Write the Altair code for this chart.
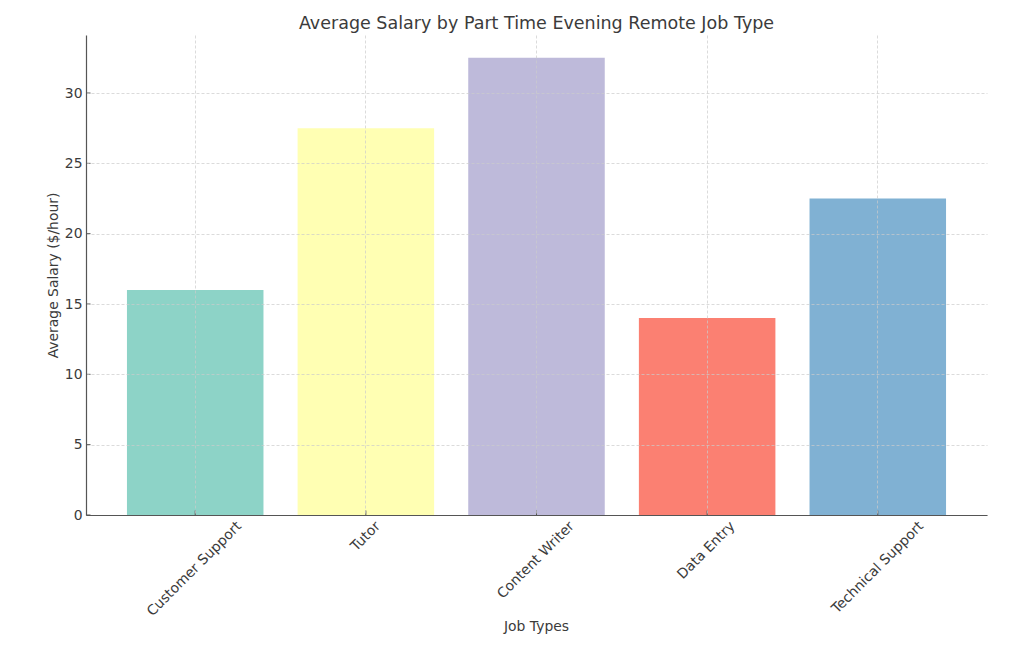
import altair as alt
import pandas as pd

# ---- data ----
jobs = ["Customer Support", "Tutor", "Content Writer", "Data Entry", "Technical Support"]
salaries = [16, 27.5, 32.5, 14, 22.5]
colors = ["#8dd3c7", "#ffffb3", "#bebada", "#fb8072", "#80b1d3"]
y_ticks = [0, 5, 10, 15, 20, 25, 30]

title_text = "Average Salary by Part Time Evening Remote Job Type"
x_title = "Job Types"
y_title = "Average Salary ($/hour)"

FONT = "DejaVu Sans"
TXT = "#3b3b3b"
AXC = "#555555"
FS = 13.9

# approximate DejaVu Sans advance widths (em) used to place rotated labels
_W = {" ": .318, "C": .698, "u": .634, "s": .521, "t": .392, "o": .612, "m": .974,
      "e": .615, "r": .411, "S": .635, "p": .635, "T": .611, "n": .634, "W": .989,
      "i": .278, "D": .770, "a": .613, "E": .632, "y": .592, "c": .550, "h": .634,
      "l": .278}


def text_width(s):
    return sum(_W.get(ch, 0.6) for ch in s) * FS


df = pd.DataFrame({"job": jobs, "salary": salaries,
                   "lw": [text_width(j) for j in jobs]})
ticks_df = pd.DataFrame({"t": y_ticks})

x_scale = alt.Scale(paddingInner=0.2, paddingOuter=0.24)
y_scale = alt.Scale(domain=[0, 34.125], nice=False, zero=True)

grid_kw = dict(grid=True, gridColor="#cccccc", gridDash=[3, 2], gridWidth=0.7)

x_axis = alt.Axis(labels=False, ticks=False, title=x_title,
                  titleX=450, titleY=115, titleAngle=0,
                  titleAlign="center", titleBaseline="alphabetic",
                  titleFont=FONT, titleFontSize=FS, titleFontWeight="normal",
                  titleColor=TXT, domainColor=AXC, domainWidth=1.2,
                  zindex=1, **grid_kw)
y_axis = alt.Axis(values=y_ticks, title=y_title, titleX=-33, titleY=240,
                  titleAngle=270, titleAlign="center", titleBaseline="middle",
                  titleFont=FONT, titleFontSize=FS, titleFontWeight="normal",
                  titleColor=TXT, labelFont=FONT, labelFontSize=FS,
                  labelColor=TXT, labelPadding=4, ticks=False,
                  domainColor=AXC, domainWidth=1.2, zindex=1, **grid_kw)

bars = alt.Chart(df).mark_bar().encode(
    x=alt.X("job:N", sort=jobs, scale=x_scale, title=x_title, axis=x_axis),
    y=alt.Y("salary:Q", scale=y_scale, title=y_title, axis=y_axis),
    color=alt.Color("job:N", sort=jobs, scale=alt.Scale(domain=jobs, range=colors),
                    legend=None),
)

off = {"expr": "0.25*datum.lw + 1.41"}
labels = alt.Chart(df).mark_text(
    angle=315, align="right", baseline="alphabetic", font=FONT, fontSize=FS,
    color=TXT, dx=off, dy=off,
).encode(
    x=alt.X("job:N", sort=jobs, title=x_title, axis=x_axis),
    y=alt.value(492),
    text="job:N",
)

x_tick_marks = alt.Chart(df).mark_rule(color=AXC, strokeWidth=1).encode(
    x=alt.X("job:N", sort=jobs, title=x_title, axis=x_axis),
    y=alt.value(475.5),
    y2=alt.value(480),
)

y_tick_marks = alt.Chart(ticks_df).mark_rule(color=AXC, strokeWidth=1).encode(
    y=alt.Y("t:Q", scale=y_scale, title=y_title, axis=y_axis),
    x=alt.value(0),
    x2=alt.value(4.5),
)

chart = alt.layer(bars, x_tick_marks, y_tick_marks, labels).properties(
    width=901,
    height=480,
    autosize=alt.AutoSizeParams(type="none"),
    padding={"left": 78, "top": 27, "right": 29, "bottom": 120},
    title=alt.TitleParams(title_text, font=FONT, fontSize=17.5, fontWeight="normal",
                          color=TXT, anchor="middle", frame="group",
                          baseline="alphabetic", offset=6, dy=17),
).configure(background="white", font=FONT).configure_view(stroke=None)

chart.save("out.html", embed_options={"renderer": "svg", "actions": False})
